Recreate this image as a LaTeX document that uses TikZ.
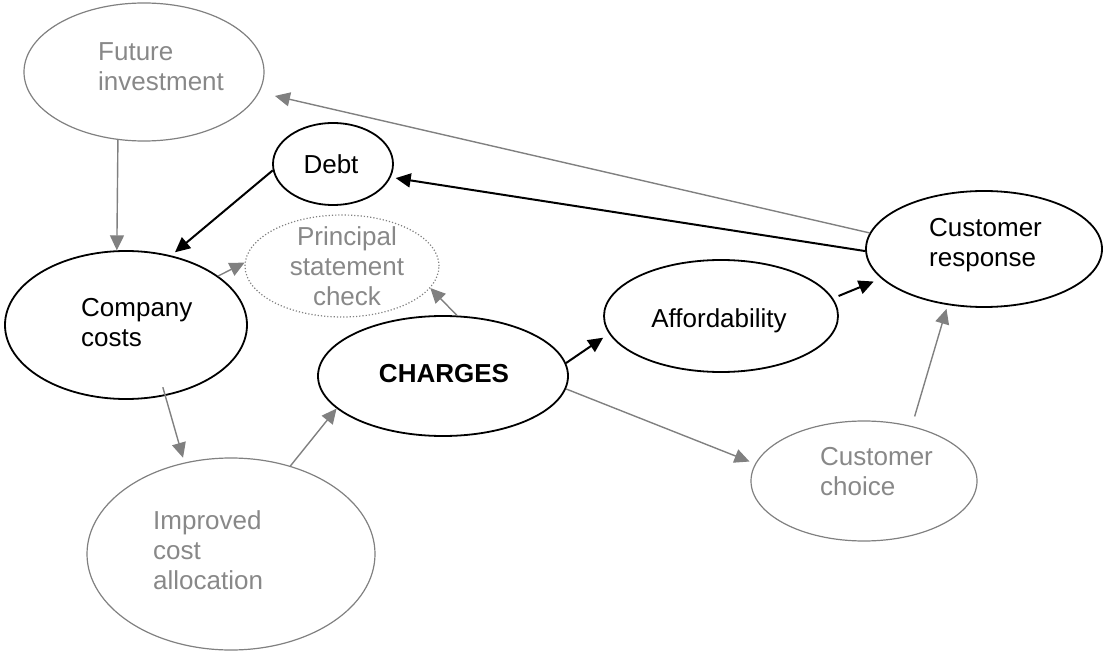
\documentclass[tikz,border=0pt]{standalone}
\usepackage{fontspec}
\setmainfont{Liberation Sans}
\usetikzlibrary{arrows.meta}
\usetikzlibrary{shapes.geometric}
\definecolor{pale}{RGB}{128,128,128}
\definecolor{paletext}{RGB}{136,136,136}

\begin{document}
\begin{tikzpicture}[x=1pt,y=-1pt,
 blk/.style={ellipse, draw=black, line width=1.8pt, inner sep=0},
 gry/.style={ellipse, draw=pale, line width=1.2pt, inner sep=0},
 txt/.style={inner sep=0, font=\fontsize{26}{30}\selectfont, align=left},
 blkarr/.style={draw=black, line width=2pt, -{Triangle[length=15pt,width=14pt]}},
 gryarr/.style={draw=pale, line width=1.4pt, -{Triangle[length=15pt,width=14pt]}}]
\useasboundingbox (0,0) rectangle (1116,652);
\node[gry, minimum width=240pt, minimum height=138pt] (fi) at (144,72) {};
\node[blk, minimum width=120pt, minimum height=82pt] (debt) at (333,164) {};
\node[blk, minimum width=242pt, minimum height=148pt] (cc) at (126,325) {};
\node[gry, dotted, minimum width=194pt, minimum height=102pt] (psc) at (342,266) {};
\node[blk, minimum width=250pt, minimum height=120pt] (ch) at (443,376) {};
\node[blk, minimum width=234pt, minimum height=112pt] (aff) at (721,316) {};
\node[blk, minimum width=236pt, minimum height=116pt] (cr) at (984,249) {};
\node[gry, minimum width=226pt, minimum height=120pt] (cch) at (864,481) {};
\node[gry, minimum width=288pt, minimum height=192pt] (ica) at (231,554) {};

\node[txt, text=paletext, anchor=west] (fi-t) at (98,67) {Future\\investment};
\node[txt] (debt-t) at (331,164) {Debt};
\node[txt, anchor=west] (cc-t) at (81,323) {Company\\costs};
\node[txt, text=paletext, align=center] (psc-t) at (347,266) {Principal\\statement\\check};
\node[txt, font=\fontsize{26}{30}\selectfont\bfseries] (ch-t) at (444,374) {CHARGES};
\node[txt] (aff-t) at (719,321) {Affordability};
\node[txt, anchor=west] (cr-t) at (929,245) {Customer\\response};
\node[txt, text=paletext, anchor=west] (cch-t) at (820,472) {Customer\\choice};
\node[txt, text=paletext, anchor=west] (ica-t) at (153,550) {Improved\\cost\\allocation};

\draw[gryarr] (fi.249) -- (cc.97);
\draw[blkarr, shorten >=5pt] (debt.186) -- (cc.57);
\draw[blkarr, shorten >=5pt] (cr.181) -- (debt.347);
\draw[gryarr, shorten >=16pt] (cr.172) -- (fi.350);
\draw[gryarr] (cc.28) -- (psc.178);
\draw[gryarr] (ch.77) -- (psc.346);
\draw[gryarr, shorten <=-9pt, shorten >=5pt] (cc.299) -- (ica.117);
\draw[gryarr] (ica.56) -- (ch.197);
\draw[blkarr, shorten >=7pt] (ch.6) -- (aff.189);
\draw[blkarr, shorten <=6pt, shorten >=8pt] (aff.9) -- (cr.196);
\draw[gryarr, shorten >=6pt] (ch.354) -- (cch.171);
\draw[gryarr, shorten <=10pt, shorten >=4pt] (cch.49) -- (cr.237);
\end{tikzpicture}
\end{document}
